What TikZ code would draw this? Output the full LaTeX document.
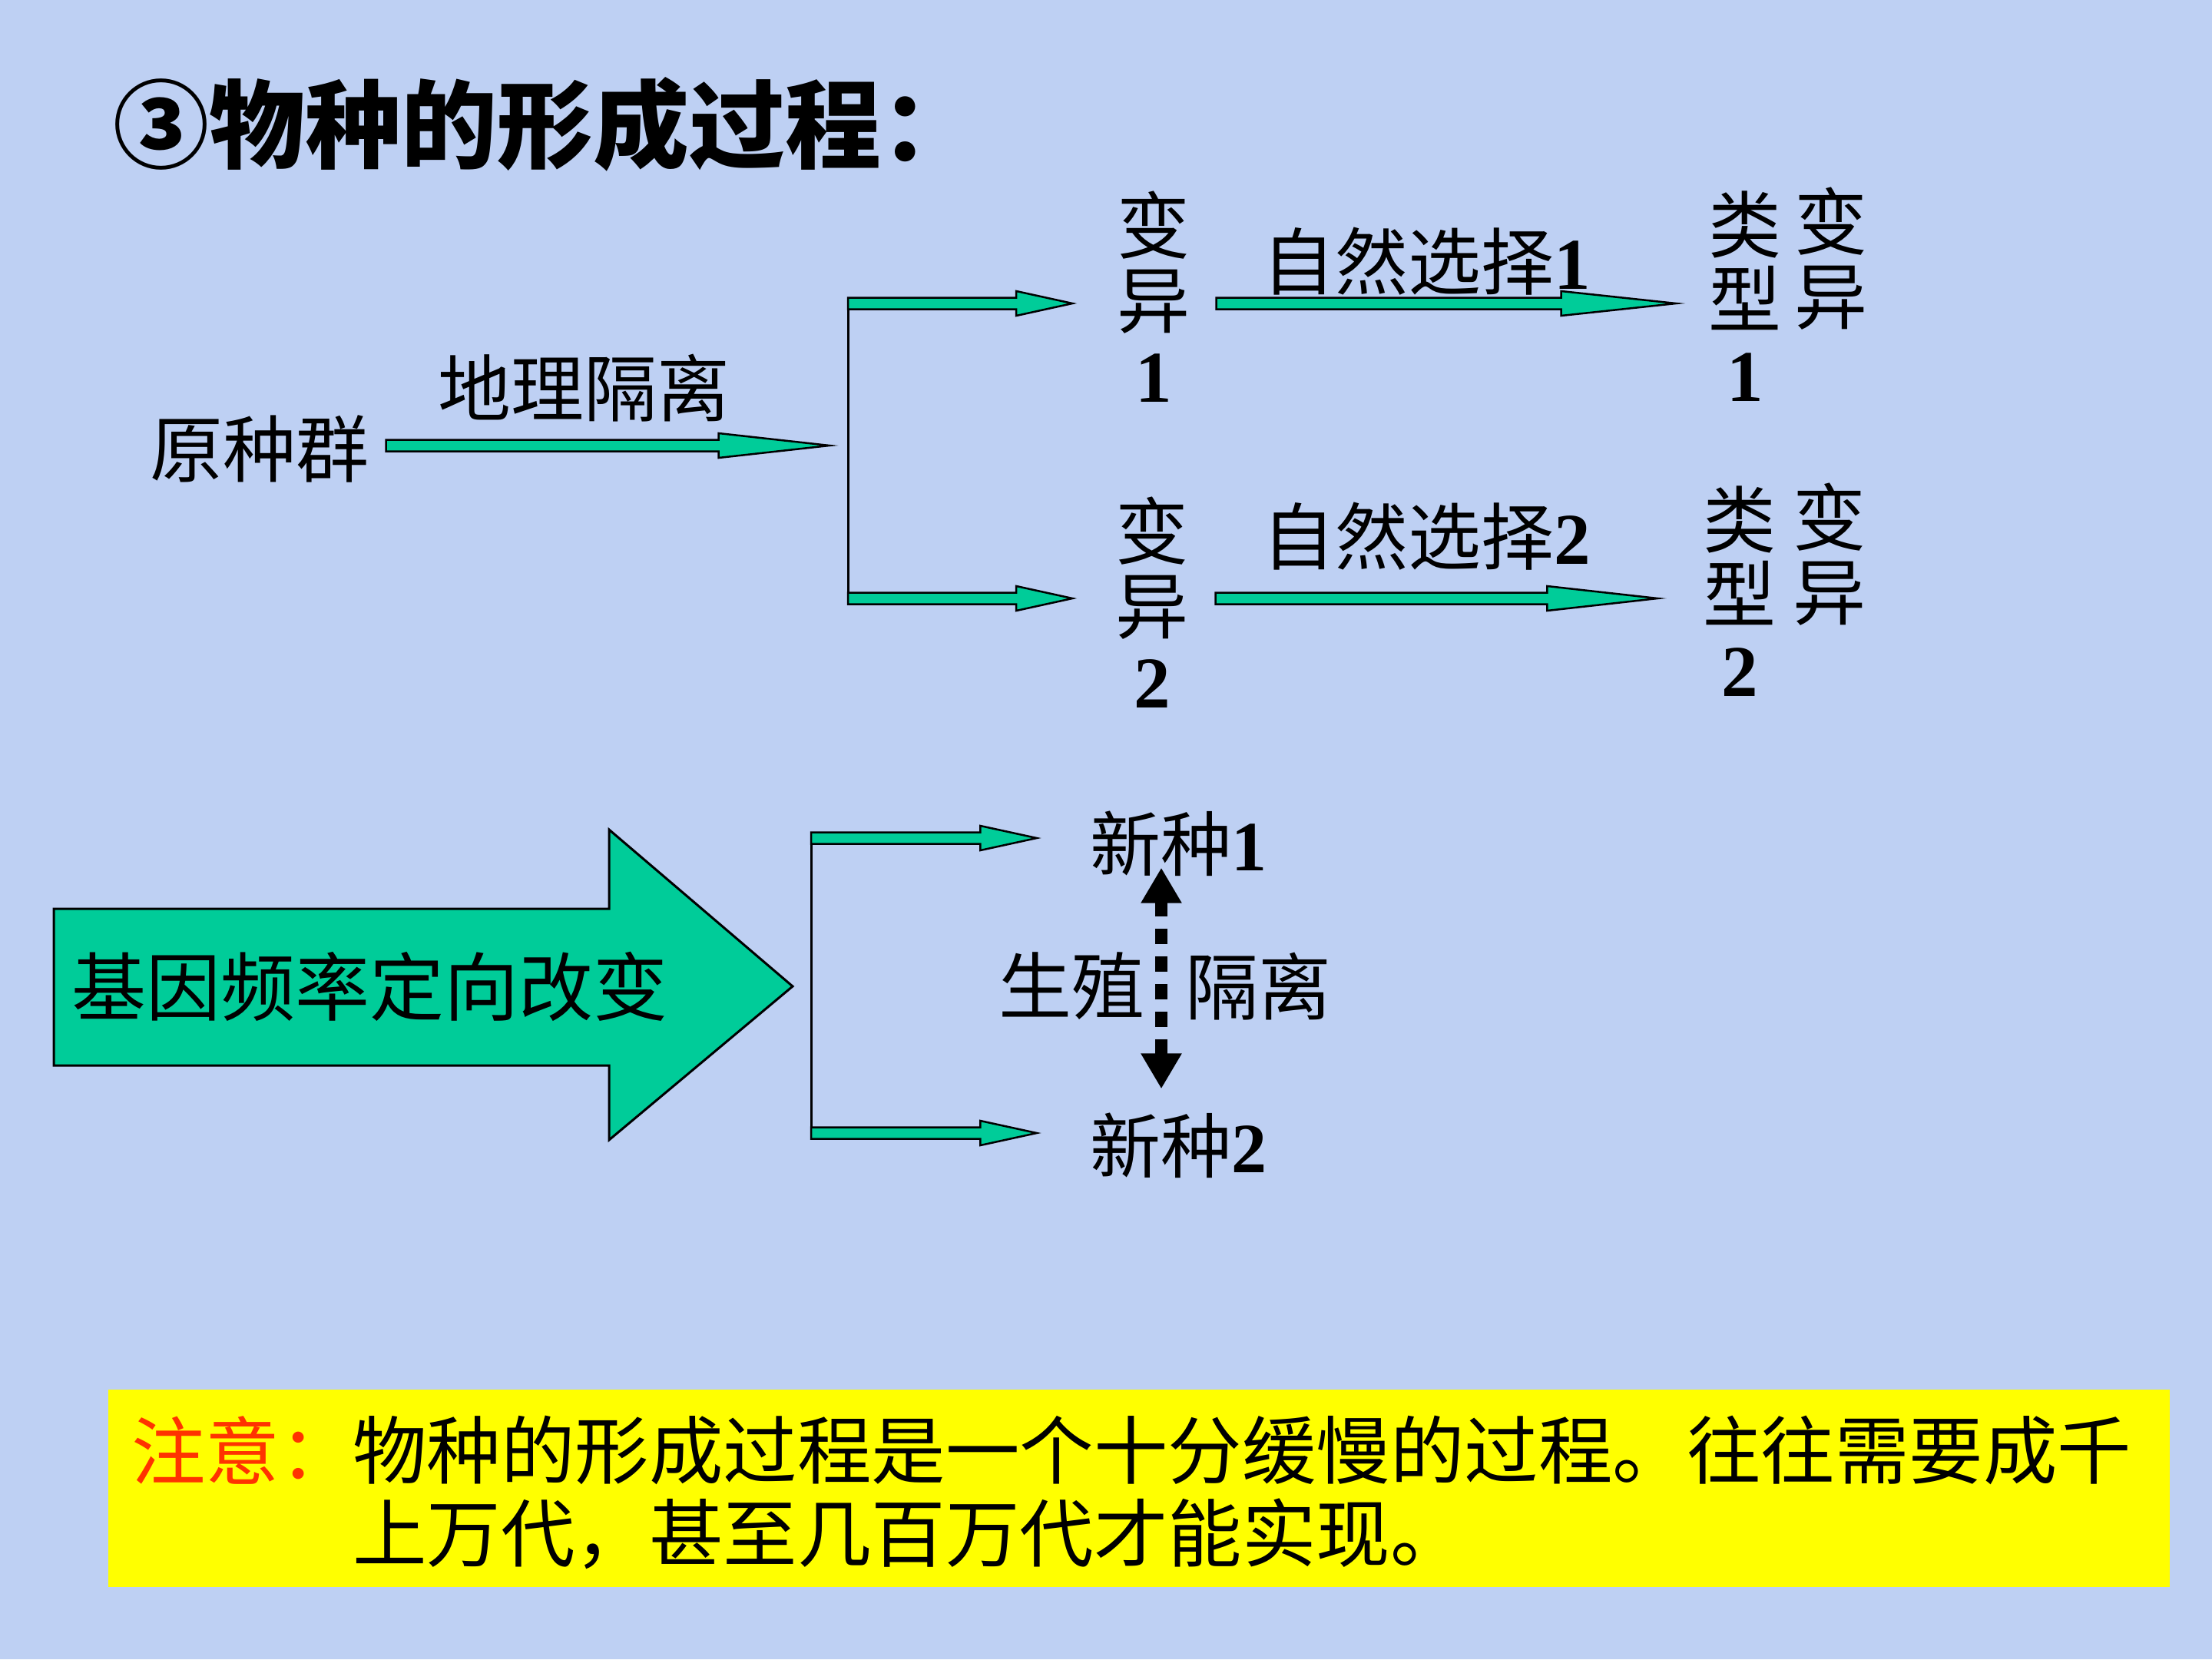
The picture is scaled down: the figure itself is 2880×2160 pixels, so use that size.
\documentclass[tikz,border=0pt]{standalone}
\usepackage{fontspec}
\setmainfont{Liberation Serif}
\newfontfamily\cjk{Noto Sans CJK SC}
\usetikzlibrary{arrows.meta,calc}
\definecolor{bgc}{RGB}{190,208,243}
\definecolor{agreen}{RGB}{0,204,153}
\definecolor{notered}{RGB}{255,51,0}
\definecolor{noteyel}{RGB}{255,255,0}
\newcommand\dg[1]{{\rmfamily\bfseries #1}}
\tikzset{
  blockarr/.style={fill=agreen,draw=black,line width=2.5pt,line join=miter},
  lab/.style={inner sep=0pt,align=center,font=\cjk\fontsize{95}{97}\selectfont},
  notetext/.style={inner sep=0pt,anchor=west,font=\cjk\fontsize{96.5}{100}\selectfont},
  brackline/.style={draw=black,line width=3pt},
  repiso/.style={line width=16pt,dash pattern=on 20pt off 16pt,
    arrows={Triangle[width=50pt,length=46pt]-Triangle[width=50pt,length=46pt]}}
}
% horizontal block arrow from #1 to #2 (y taken from #1)
\newcommand\blockarrow[2]{%
  \draw[blockarr] let \p1=(#1), \p2=(#2) in
   (\x1,\y1+7.5pt) -- (\x2-0.25*\x2+0.25*\x1,\y1+7.5pt)
   -- (\x2-0.25*\x2+0.25*\x1,\y1+16pt) -- (\x2,\y1)
   -- (\x2-0.25*\x2+0.25*\x1,\y1-16pt) -- (\x2-0.25*\x2+0.25*\x1,\y1-7.5pt)
   -- (\x1,\y1-7.5pt) -- cycle;}
\begin{document}
\begin{tikzpicture}[x=1pt,y=-1pt]
\useasboundingbox (0,0) rectangle (2880,2160);
\fill[bgc] (0,0) rectangle (2880,2160);

% title
\node[inner sep=0pt,anchor=west,font=\cjk\bfseries\fontsize{125}{130}\selectfont] (title) at (147,162) {③物种的形成过程：};

% upper part
\node[lab] (yzq) at (338,584) {原种群};
\node[lab] (dlgl) at (760,505) {地理隔离};
\coordinate (br1t) at (1104,395);
\coordinate (br1m) at (1104,580);
\coordinate (br1b) at (1104,779);

\node[lab] (by1) at (1502,386) {变\\异\\\dg{1}};
\node[lab] (by2) at (1500,784) {变\\异\\\dg{2}};
\node[lab] (zr1) at (1857,340) {自然选择\dg{1}};
\node[lab] (zr2) at (1857,698) {自然选择\dg{2}};
\node[lab] (ty1) at (2272,386) {类\\型\\\dg{1}};
\node[lab] (ty1b) at (2384,337) {变\\异};
\node[lab] (ty2) at (2265,770) {类\\型\\\dg{2}};
\node[lab] (ty2b) at (2382,722) {变\\异};

\blockarrow{$(yzq.east)+(22,-4)$}{$(br1m)+(-24,0)$}
\draw[brackline] ([yshift=7.5pt]br1t) -- ([yshift=-7.5pt]br1b);
\blockarrow{br1t}{$(by1.west)+(-58,0)$}
\blockarrow{br1b}{$(by2.west)+(-56,0)$}
\blockarrow{$(by1.east|-br1t)+(34,0)$}{$(ty1.west)+(-42,0)$}
\blockarrow{$(by2.east|-br1b)+(35,0)$}{$(ty2.west)+(-59,0)$}

% big block arrow
\draw[fill=agreen,draw=black,line width=3pt,line join=miter]
  (70,1183) -- (793,1183) -- (793,1080) -- (1032,1284) -- (793,1484) -- (793,1387) -- (70,1387) -- cycle;
\node[inner sep=0pt,font=\cjk\fontsize{97}{100}\selectfont] (gf) at (481,1284) {基因频率定向改变};

% lower part
\node[lab,font=\cjk\fontsize{92}{94}\selectfont] (xz1) at (1534,1098) {新种\dg{1}};
\node[lab,font=\cjk\fontsize{92}{94}\selectfont] (xz2) at (1534,1491) {新种\dg{2}};
\coordinate (br2t) at (1056,1091);
\coordinate (br2b) at (1056,1475);
\draw[brackline] ([yshift=7.5pt]br2t) -- ([yshift=-7.5pt]br2b);
\blockarrow{br2t}{$(xz1.west)+(-69,0)$}
\blockarrow{br2b}{$(xz2.west)+(-69,0)$}
\draw[repiso] ([xshift=-22pt,yshift=11pt]xz1.south) -- ([xshift=-22pt,yshift=31pt]xz2.north);
\node[lab] (sz) at (1395,1284) {生殖};
\node[lab] (gl) at (1638,1284) {隔离};

% note box
\fill[noteyel] (141,1809) rectangle (2825,2066);
\node[notetext,text=notered] (zy) at (171,1888) {注意：};
\node[notetext] (n1) at (459,1888) {物种的形成过程是一个十分缓慢的过程。往往需要成千};
\node[notetext] (n2) at (459,1997) {上万代，甚至几百万代才能实现。};
\end{tikzpicture}
\end{document}
